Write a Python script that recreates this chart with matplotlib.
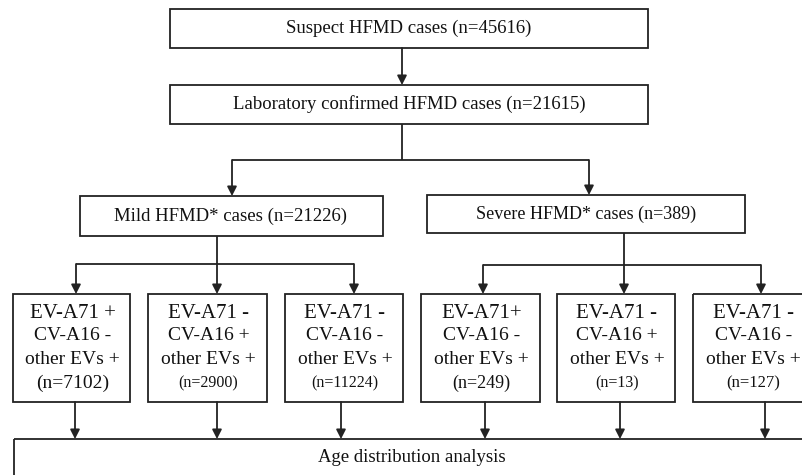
import matplotlib
matplotlib.use("Agg")
import matplotlib.pyplot as plt
from matplotlib.patches import Rectangle

# ---- data (text content) ----
top_labels = ["Suspect HFMD cases (n=45616)", "Laboratory confirmed HFMD cases (n=21615)"]
group_labels = ["Mild HFMD* cases (n=21226)", "Severe HFMD* cases (n=389)"]
ev71 = ["EV-A71 +", "EV-A71 -", "EV-A71 -", "EV-A71+", "EV-A71 -", "EV-A71 -"]
cva16 = ["CV-A16 -", "CV-A16 +", "CV-A16 -", "CV-A16 -", "CV-A16 +", "CV-A16 -"]
other = ["other EVs +"] * 6
counts = [7102, 2900, 11224, 249, 13, 127]
final_label = "Age distribution analysis"

# ---- layout (pixels) ----
W, H = 802, 475
fig = plt.figure(figsize=(W / 100, H / 100), dpi=100)
ax = fig.add_axes([0, 0, 1, 1])
ax.set_xlim(0, W)
ax.set_ylim(H, 0)
ax.axis("off")

FONT = "Liberation Serif"
LW = 1.3
col = "#222222"

def box(x0, x1, y0, y1):
    ax.add_patch(Rectangle((x0, y0), x1 - x0, y1 - y0, fill=False,
                           edgecolor=col, linewidth=LW, clip_on=False))

def line(x0, y0, x1, y1):
    ax.plot([x0, x1], [y0, y1], color=col, linewidth=LW, solid_capstyle="butt")

def arrow(x, y0, y1):
    ax.annotate("", xy=(x, y1), xytext=(x, y0),
                arrowprops=dict(arrowstyle="-|>,head_length=0.55,head_width=0.28",
                                color=col, lw=LW, shrinkA=0, shrinkB=0))

def text(x, y, s, size, **kw):
    ax.text(x, y, s, ha="center", va="center", fontsize=size,
            family=FONT, color="#111111", **kw)

# top boxes
box(170, 648, 9, 48)
text(409, 28.5, top_labels[0], 13.5)
arrow(402, 48, 85)
box(170, 648, 85, 124)
text(409, 104.5, top_labels[1], 13.5)

# split
line(402, 124, 402, 160)
line(232, 160, 589, 160)
arrow(232, 160, 196)
arrow(589, 160, 195)

# group boxes
box(80, 383, 196, 236)
text(231, 216, group_labels[0], 13.5)
box(427, 745, 195, 233)
text(586, 214, group_labels[1], 13)

# sub splits
line(217, 236, 217, 264)
line(76, 264, 354, 264)
for x in (76, 217, 354):
    arrow(x, 264, 294)
line(624, 233, 624, 265)
line(483, 265, 761, 265)
for x in (483, 624, 761):
    arrow(x, 265, 294)

# bottom boxes
bx = [(13, 130), (148, 267), (285, 403), (421, 540), (557, 675), (693, 812)]
ax_arrows = [75, 217, 341, 485, 620, 765]
n_sizes = [14, 11.5, 11.5, 13, 11.5, 12]
for i, (x0, x1) in enumerate(bx):
    box(x0, x1, 294, 402)
    cx = (x0 + x1) / 2 + 1
    text(cx, 313, ev71[i], 15)
    text(cx, 335, cva16[i], 14)
    text(cx, 359, other[i], 14)
    text(cx, 383, f"(n={counts[i]})", n_sizes[i])
    arrow(ax_arrows[i], 402, 439)

# final box
box(14, 815, 439, 490)
text(412, 458, final_label, 13.5)

fig.savefig("out.png", dpi=100)
